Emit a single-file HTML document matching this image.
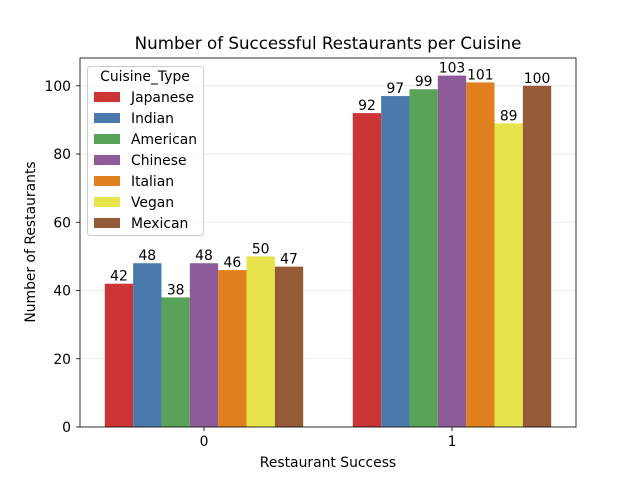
<!DOCTYPE html>
<html><head><meta charset="utf-8"><style>
body{margin:0;background:#fff;}
svg text{font-family:"DejaVu Sans","Liberation Sans",sans-serif;fill:#000;}
</style></head><body>
<svg id="chart" width="640" height="480">
<rect x="0" y="0" width="640" height="480" fill="#fff"/>
<g id="grid"></g><g id="bars"></g><g id="labels"></g><g id="axes"></g><g id="legend"></g>
<text x="328" y="49" text-anchor="middle" font-size="16.7">Number of Successful Restaurants per Cuisine</text>
<text x="328" y="467" text-anchor="middle" font-size="13.9">Restaurant Success</text>
<text transform="translate(35,242) rotate(-90)" text-anchor="middle" font-size="13.9">Number of Restaurants</text>
</svg>
<script>
const categories = ["0","1"];
const cuisines = ["Japanese","Indian","American","Chinese","Italian","Vegan","Mexican"];
const countsFail = [42,48,38,48,46,50,47];
const countsSuccess = [92,97,99,103,101,89,100];
const yTicks = [0,20,40,60,80,100];
const colors = ["#cc3535","#4a7aab","#58a357","#8e5a9a","#e0801f","#e6e34b","#955a38"];
const NS="http://www.w3.org/2000/svg";
const L=80,R=576,T=58,B=427,yMax=108.15;
const x=v=>L+(v+0.5)*(R-L)/2;
const y=v=>B-v*(B-T)/yMax;
function mk(tag,attrs,parent){const e=document.createElementNS(NS,tag);for(const k in attrs)e.setAttribute(k,attrs[k]);parent.appendChild(e);return e;}
const g=document.getElementById('grid'),bg=document.getElementById('bars'),lg=document.getElementById('labels'),ax=document.getElementById('axes'),leg=document.getElementById('legend');
yTicks.forEach(t=>{
 const l=mk('line',{x1:L,x2:R,y1:y(t),y2:y(t),stroke:"#e6e6e6","stroke-width":0.8},g);
 
 
 const tk=mk('line',{x1:L-4,x2:L,y1:y(t),y2:y(t),stroke:"#000","stroke-width":0.8},ax);
 
 
 const tx=mk('text',{x:L-9,y:y(t)+5,"text-anchor":"end","font-size":13.9},ax);tx.textContent=t;
 
 
});
const series=[countsFail,countsSuccess];
const bw=0.8/cuisines.length;
categories.forEach((c,ci)=>{
 cuisines.forEach((cu,si)=>{
  const v=series[ci][si];
  const x0=x(ci-0.4+si*bw),x1=x(ci-0.4+(si+1)*bw);
  const r=mk('rect',{x:x0,y:y(v),width:x1-x0,height:B-y(v),fill:colors[si]},bg);
  
  
  const t=mk('text',{x:(x0+x1)/2,y:y(v)-3,"text-anchor":"middle","font-size":13.9},lg);t.textContent=v;
  
  
 });
 const tk=mk('line',{x1:x(ci),x2:x(ci),y1:B,y2:B+4,stroke:"#000","stroke-width":0.8},ax);
 
 
 const tx=mk('text',{x:x(ci),y:B+19,"text-anchor":"middle","font-size":13.9},ax);tx.textContent=c;
 
 
});
const frame=mk('rect',{x:L,y:T,width:R-L,height:B-T,fill:"none",stroke:"#000","stroke-width":0.8},ax);


const box=mk('rect',{x:87.5,y:66.5,width:116,height:169,rx:3,fill:"#fff","fill-opacity":0.8,stroke:"#ccc"},leg);


const lt=mk('text',{x:145,y:81,"text-anchor":"middle","font-size":13.9},leg);lt.textContent="Cuisine_Type";


cuisines.forEach((cu,i)=>{
 const yy=97+i*21;
 const p=mk('rect',{x:94,y:yy-5,width:26,height:10,fill:colors[i]},leg);
 
 
 const t=mk('text',{x:131,y:yy+5,"font-size":13.9},leg);t.textContent=cu;
 
 
});
</script>
</body></html>
